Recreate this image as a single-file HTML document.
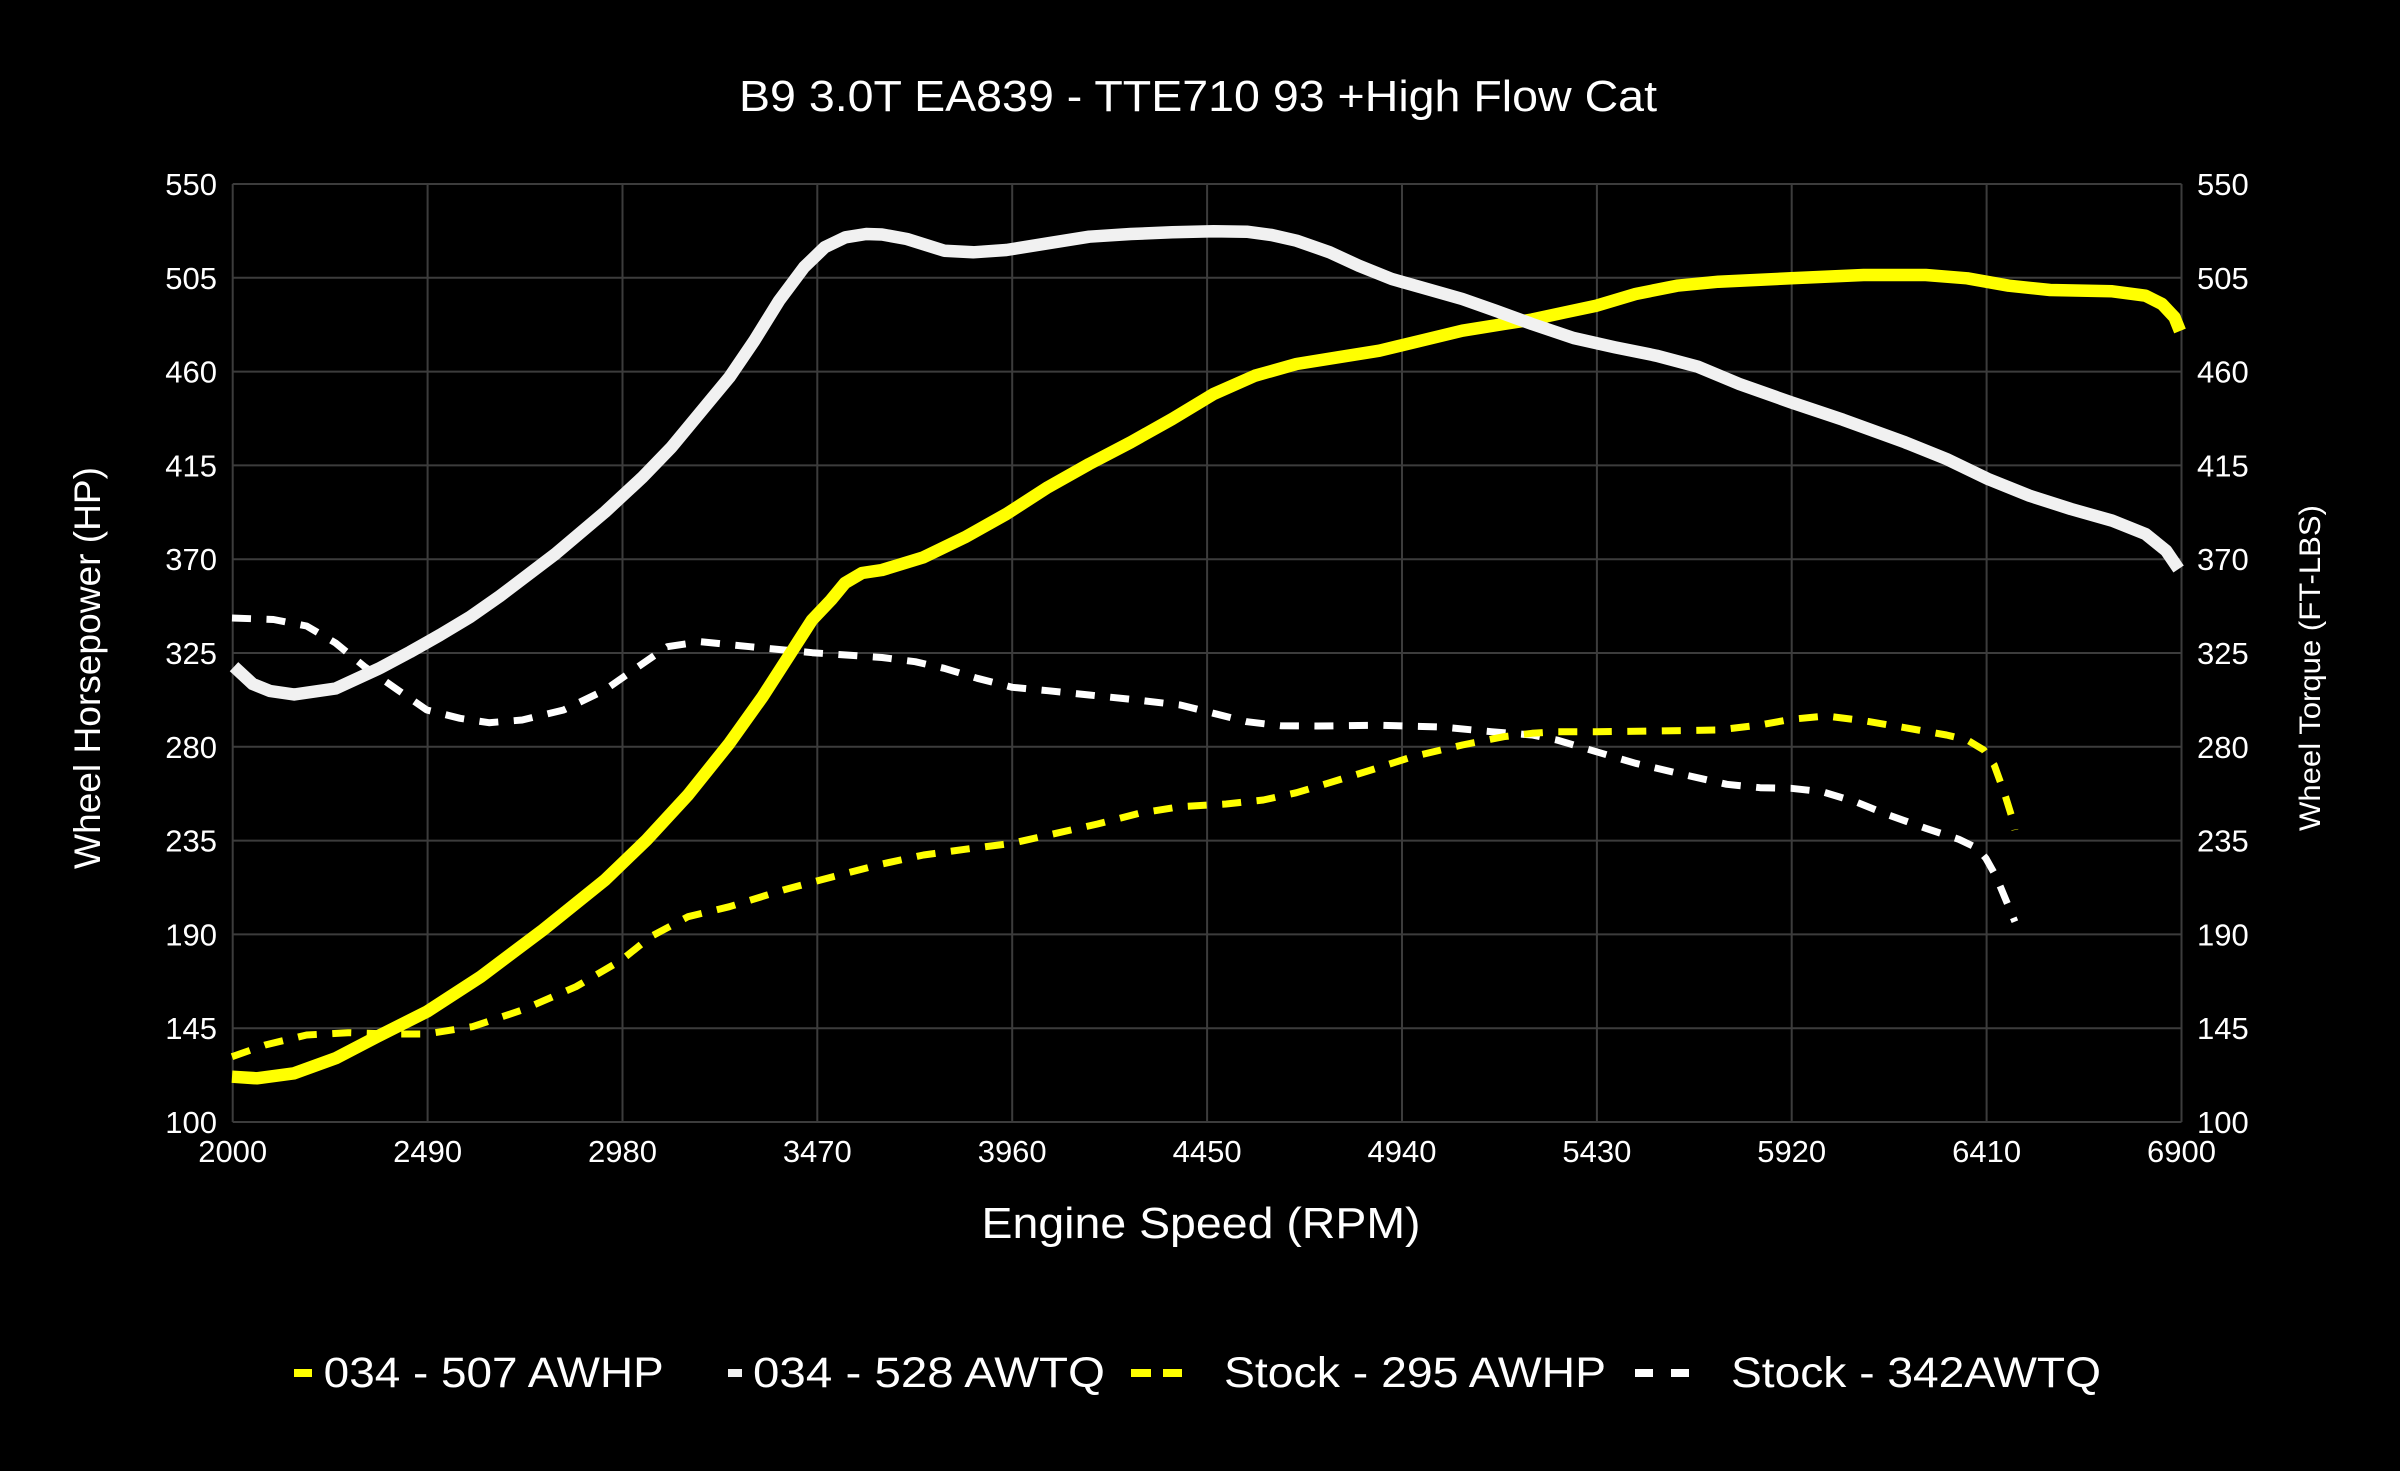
<!DOCTYPE html>
<html>
<head>
<meta charset="utf-8">
<style>
html,body{margin:0;padding:0;background:#000;}
svg{display:block;}
text{font-family:"Liberation Sans",Arial,sans-serif;fill:#fff;}
</style>
</head>
<body>
<svg width="2400" height="1471" viewBox="0 0 2400 1471" xmlns="http://www.w3.org/2000/svg">
<rect x="0" y="0" width="2400" height="1471" fill="#000"/>

<!-- grid -->
<g stroke="#3c3c3c" stroke-width="2" fill="none">
  <line x1="232.7" y1="184" x2="2181.5" y2="184"/>
  <line x1="232.7" y1="277.8" x2="2181.5" y2="277.8"/>
  <line x1="232.7" y1="371.6" x2="2181.5" y2="371.6"/>
  <line x1="232.7" y1="465.4" x2="2181.5" y2="465.4"/>
  <line x1="232.7" y1="559.2" x2="2181.5" y2="559.2"/>
  <line x1="232.7" y1="653" x2="2181.5" y2="653"/>
  <line x1="232.7" y1="746.8" x2="2181.5" y2="746.8"/>
  <line x1="232.7" y1="840.6" x2="2181.5" y2="840.6"/>
  <line x1="232.7" y1="934.4" x2="2181.5" y2="934.4"/>
  <line x1="232.7" y1="1028.2" x2="2181.5" y2="1028.2"/>
  <line x1="232.7" y1="1122" x2="2181.5" y2="1122"/>

  <line x1="232.7" y1="184" x2="232.7" y2="1122"/>
  <line x1="427.6" y1="184" x2="427.6" y2="1122"/>
  <line x1="622.5" y1="184" x2="622.5" y2="1122"/>
  <line x1="817.3" y1="184" x2="817.3" y2="1122"/>
  <line x1="1012.2" y1="184" x2="1012.2" y2="1122"/>
  <line x1="1207.1" y1="184" x2="1207.1" y2="1122"/>
  <line x1="1402" y1="184" x2="1402" y2="1122"/>
  <line x1="1596.9" y1="184" x2="1596.9" y2="1122"/>
  <line x1="1791.7" y1="184" x2="1791.7" y2="1122"/>
  <line x1="1986.6" y1="184" x2="1986.6" y2="1122"/>
  <line x1="2181.5" y1="184" x2="2181.5" y2="1122"/>
</g>

<!-- left y tick labels -->
<g font-size="31" text-anchor="end">
  <text x="217" y="195">550</text>
  <text x="217" y="288.8">505</text>
  <text x="217" y="382.6">460</text>
  <text x="217" y="476.4">415</text>
  <text x="217" y="570.2">370</text>
  <text x="217" y="664">325</text>
  <text x="217" y="757.8">280</text>
  <text x="217" y="851.6">235</text>
  <text x="217" y="945.4">190</text>
  <text x="217" y="1039.2">145</text>
  <text x="217" y="1133">100</text>
</g>
<!-- right y tick labels -->
<g font-size="31" text-anchor="start">
  <text x="2197" y="195">550</text>
  <text x="2197" y="288.8">505</text>
  <text x="2197" y="382.6">460</text>
  <text x="2197" y="476.4">415</text>
  <text x="2197" y="570.2">370</text>
  <text x="2197" y="664">325</text>
  <text x="2197" y="757.8">280</text>
  <text x="2197" y="851.6">235</text>
  <text x="2197" y="945.4">190</text>
  <text x="2197" y="1039.2">145</text>
  <text x="2197" y="1133">100</text>
</g>
<!-- x tick labels -->
<g font-size="31" text-anchor="middle">
  <text x="232.7" y="1162">2000</text>
  <text x="427.6" y="1162">2490</text>
  <text x="622.5" y="1162">2980</text>
  <text x="817.3" y="1162">3470</text>
  <text x="1012.2" y="1162">3960</text>
  <text x="1207.1" y="1162">4450</text>
  <text x="1402" y="1162">4940</text>
  <text x="1596.9" y="1162">5430</text>
  <text x="1791.7" y="1162">5920</text>
  <text x="1986.6" y="1162">6410</text>
  <text x="2181.5" y="1162">6900</text>
</g>

<!-- titles -->
<text x="1198" y="111" font-size="44" text-anchor="middle" textLength="918" lengthAdjust="spacingAndGlyphs">B9 3.0T EA839 - TTE710 93 +High Flow Cat</text>
<text x="1201" y="1238" font-size="44" text-anchor="middle" textLength="439" lengthAdjust="spacingAndGlyphs">Engine Speed (RPM)</text>
<text transform="translate(100,668) rotate(-90)" font-size="37" text-anchor="middle" textLength="402" lengthAdjust="spacingAndGlyphs">Wheel Horsepower (HP)</text>
<text transform="translate(2320,668) rotate(-90)" font-size="30" text-anchor="middle" textLength="326" lengthAdjust="spacingAndGlyphs">Wheel Torque (FT-LBS)</text>

<!-- series -->
<g fill="none" stroke-linejoin="round">
  <!-- Stock TQ (white dashed) -->
  <polyline stroke="#ffffff" stroke-width="7" stroke-dasharray="19 15.5" stroke-linecap="butt"
    points="232,618 273.5,619.5 306.6,626 335.6,643 364.6,666.7 397.8,690 426.8,710 460,718.3 489,722.7 522.2,720 563.6,710 605,690 638.2,666.7 667.2,646.7 700.4,641.7 750,646.7 812.3,652.7 882,657.5 915.2,661.7 944.2,668.3 977.3,678.3 1012.2,687.3 1047.8,690.7 1089.2,695 1130.7,699.3 1180.4,705 1213.6,713.3 1246.8,721.7 1280.7,725.7 1317.2,726 1379.4,725.3 1441.6,727 1491.3,731.7 1532,735 1556.9,740 1596.2,751.7 1635.6,763.3 1685.4,775 1726.8,784.3 1760,787.7 1791,788.3 1822.2,791.7 1855.3,801.7 1888.5,815 1925.8,828.3 1958.9,839.3 1977.6,848.3 1985.9,858.3 1996.2,876.7 2006.6,901.7 2014.9,921.7"/>
  <!-- Stock HP (yellow dashed) -->
  <polyline stroke="#ffff00" stroke-width="7" stroke-dasharray="19 15.5" stroke-linecap="butt"
    points="232,1056.7 265.2,1045 306.6,1035 348,1032.7 389.5,1034 426.8,1034 472.4,1026.7 522.2,1010 576,986.7 621.6,960 650.6,936.7 688,916.7 729.4,906.7 783.3,890 833,876.7 882,864 923.5,855 964.9,849.3 1012.2,843.3 1056.1,833.3 1097.5,824 1139,813.3 1180.4,806.7 1226,804 1263.3,800 1296.5,792.7 1329.7,782.7 1371.1,770 1412.6,756.7 1462.3,745 1503.8,736.7 1532,733.3 1556.9,731.7 1596.2,731.7 1656.4,731 1718.5,730 1760,725 1791,719.3 1826.3,716 1863.6,720.7 1905,727.7 1946.5,735 1967.2,740 1983.8,750 1994.2,765 2004.5,793.3 2012.8,820 2014.9,830"/>
  <!-- 034 HP (yellow solid) -->
  <polyline stroke="#ffff00" stroke-width="12.5" stroke-linecap="butt"
    points="232,1076.7 256.9,1078.3 294.2,1073.3 335.6,1058.3 377.1,1036.7 426.8,1011.7 480.7,976.7 542.9,930 605,880 646.5,840 688,795 729.4,743.3 762.6,696.7 791.6,651.7 812,620 831,600 845,583 862,573 882,570 923.5,557.3 964.9,537.3 1006.4,514 1047.8,487.3 1089.2,464 1130.7,442.3 1172.2,419 1213.6,394 1255,375.7 1296.5,364 1338,357.3 1379.4,350.7 1420.9,340.7 1462.3,330.7 1503.8,324 1532,319.5 1565.2,312.3 1596.2,305.7 1635.6,294 1677,285.7 1718.5,281.7 1791,278.3 1863.6,275 1925.8,275 1967.2,278.3 2008.7,285.7 2050.1,290 2112.3,291.3 2145.5,295.7 2162,304 2174.5,317.3 2180,331"/>
  <!-- 034 TQ (white solid) -->
  <polyline stroke="#f1f1f1" stroke-width="12.5" stroke-linecap="butt"
    points="234,666.7 252.7,684 270,691 294.2,694.5 335.6,688.5 380,668 410,652 440,635 470,617 500,596 555.3,554 605,512 642.4,477.3 671.4,447.3 704.5,407.3 729.4,377.3 754.3,340.7 779.1,300.7 804,267.3 824.7,247.3 845.5,237.3 866.2,234 882,234.5 906.9,239 944.2,250.7 973.2,252.3 1006.4,250 1047.8,243.3 1089.2,236.7 1130.7,234 1172.2,232.3 1213.6,231.3 1246.8,231.7 1271.6,235 1296.5,240.7 1329.7,252.3 1358.7,265.7 1391.8,279 1420.9,287.3 1462.3,299 1495.5,310.7 1532,324 1573.5,338 1614.9,347.3 1656.4,355.7 1697.8,366.7 1739.3,384 1791,402.3 1842.9,419.7 1905,442.3 1946.5,459 1988,479 2029.4,495.7 2070.9,509 2112.3,520.7 2145.5,534 2166.2,550.7 2178.6,569"/>
</g>

<!-- legend -->
<rect x="294" y="1369" width="18" height="8" fill="#ffff00"/>
<text x="323.7" y="1387" font-size="43" textLength="340" lengthAdjust="spacingAndGlyphs">034 - 507 AWHP</text>
<rect x="728" y="1369" width="14" height="8" fill="#f1f1f1"/>
<text x="753" y="1387" font-size="43" textLength="352" lengthAdjust="spacingAndGlyphs">034 - 528 AWTQ</text>
<rect x="1131" y="1369" width="20" height="8" fill="#ffff00"/>
<rect x="1163" y="1369" width="19" height="8" fill="#ffff00"/>
<text x="1224" y="1387" font-size="43" textLength="382" lengthAdjust="spacingAndGlyphs">Stock - 295 AWHP</text>
<rect x="1635" y="1369" width="18" height="8" fill="#ffffff"/>
<rect x="1671" y="1369" width="18" height="8" fill="#ffffff"/>
<text x="1731" y="1387" font-size="43" textLength="370" lengthAdjust="spacingAndGlyphs">Stock - 342AWTQ</text>
</svg>
</body>
</html>
